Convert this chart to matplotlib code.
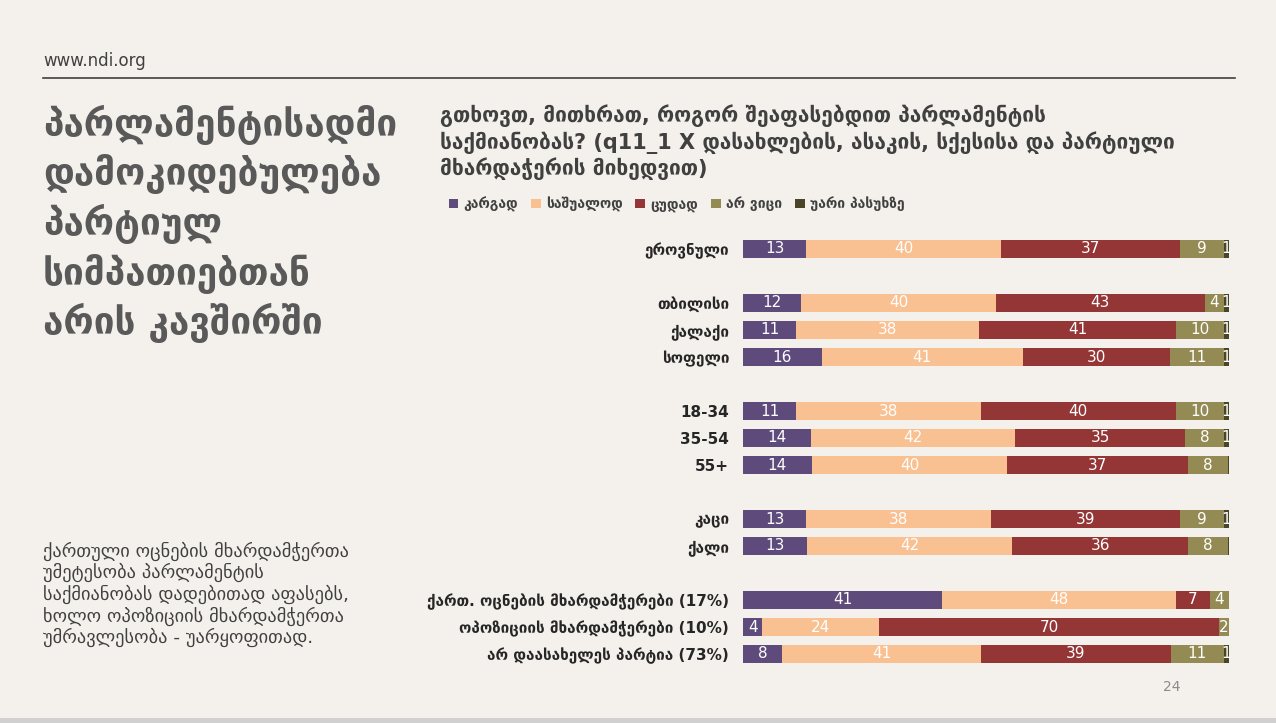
import matplotlib
matplotlib.use("Agg")
import matplotlib.pyplot as plt
from matplotlib.patches import Patch, Rectangle
import numpy as np

plt.rcParams['font.family'] = ['DejaVu Sans']

categories = ["ეროვნული", "თბილისი", "ქალაქი", "სოფელი", "18-34", "35-54", "55+",
              "კაცი", "ქალი", "ქართ. ოცნების მხარდამჭერები (17%)",
              "ოპოზიციის მხარდამჭერები (10%)", "არ დაასახელეს პარტია (73%)"]
positions = [0, 2, 3, 4, 6, 7, 8, 10, 11, 13, 14, 15]
series_names = ["კარგად", "საშუალოდ", "ცუდად", "არ ვიცი", "უარი პასუხზე"]
good = [13, 12, 11, 16, 11, 14, 14, 13, 13, 41, 4, 8]
average = [40, 40, 38, 41, 38, 42, 40, 38, 42, 48, 24, 41]
bad = [37, 43, 41, 30, 40, 35, 37, 39, 36, 7, 70, 39]
dont_know = [9, 4, 10, 11, 10, 8, 8, 9, 8, 4, 2, 11]
refuse = [1, 1, 1, 1, 1, 1, 0.3, 1, 0.3, 0, 0, 1]
colors = ["#5E4A7B", "#F9C091", "#943636", "#948A54", "#4A4526"]

BG = "#F4F1EC"
fig = plt.figure(figsize=(12.76, 7.23), dpi=100, facecolor=BG)
W, H = 1276, 723

def fx(x):
    return x / W

def fy(y):
    return 1 - y / H

ax = fig.add_axes([fx(743), fy(667.5), fx(1229) - fx(743), fy(235.5) - fy(667.5)])
ax.set_facecolor(BG)

data = np.array([good, average, bad, dont_know, refuse], dtype=float)
totals = data.sum(axis=0)
norm = data / totals * 100
left = np.zeros(len(categories))
for i, name in enumerate(series_names):
    bars = ax.barh(positions, norm[i], left=left, height=0.68, color=colors[i],
                   label=name, edgecolor="none")
    labels = [("%d" % round(v)) if v >= 0.5 else "" for v in data[i]]
    ax.bar_label(bars, labels=labels, label_type='center', color="white",
                 fontsize=11)
    left += norm[i]

ax.set_xlim(0, 100)
ax.set_ylim(15.5, -0.5)
ax.set_yticks(positions)
ax.set_yticklabels(categories, fontsize=11, color="#262626", fontweight="bold")
ax.tick_params(axis='y', length=0, pad=10)
ax.set_xticks([])
for s in ax.spines.values():
    s.set_visible(False)

# header
fig.text(fx(43), fy(61), "www.ndi.org", fontsize=12, color="#404040", va="center")
fig.add_artist(plt.Line2D([fx(43), fx(1235)], [fy(78), fy(78)], color="#404040", lw=1.2))

title_lines = ["პარლამენტისადმი", "დამოკიდებულება", "პარტიულ", "სიმპათიებთან", "არის კავშირში"]
for k, line in enumerate(title_lines):
    fig.text(fx(43), fy(125 + k * 49.5), line, fontsize=26.6, color="#595959",
             fontweight="bold", va="center")

q_lines = ["გთხოვთ, მითხრათ, როგორ შეაფასებდით პარლამენტის",
           "საქმიანობას? (q11_1 X დასახლების, ასაკის, სქესისა და პარტიული",
           "მხარდაჭერის მიხედვით)"]
for k, line in enumerate(q_lines):
    fig.text(fx(440), fy(116 + k * 26.5), line, fontsize=15, color="#404040",
             fontweight="bold", va="center")

handles = [Patch(facecolor=c, edgecolor="none", label=n) for c, n in zip(colors, series_names)]
fig.legend(handles=handles, loc="center left", bbox_to_anchor=(fx(436), fy(204)),
           ncol=5, frameon=False, handlelength=0.7, handleheight=0.7,
           handletextpad=0.4, columnspacing=0.9, labelcolor="#404040",
           prop={"weight": "bold", "size": 10})

body = ["ქართული ოცნების მხარდამჭერთა", "უმეტესობა პარლამენტის",
        "საქმიანობას დადებითად აფასებს,", "ხოლო ოპოზიციის მხარდამჭერთა",
        "უმრავლესობა - უარყოფითად."]
for k, line in enumerate(body):
    fig.text(fx(43), fy(551 + k * 21.7), line, fontsize=13.2, color="#404040", va="center")

fig.text(fx(1172), fy(687), "24", fontsize=10, color="#8C8C8C", va="center", ha="center")
fig.add_artist(Rectangle((0, 0), 1, fy(718), transform=fig.transFigure,
                         facecolor="#D0D0D0", edgecolor="none"))

fig.savefig("out.png", dpi=100, facecolor=BG)
